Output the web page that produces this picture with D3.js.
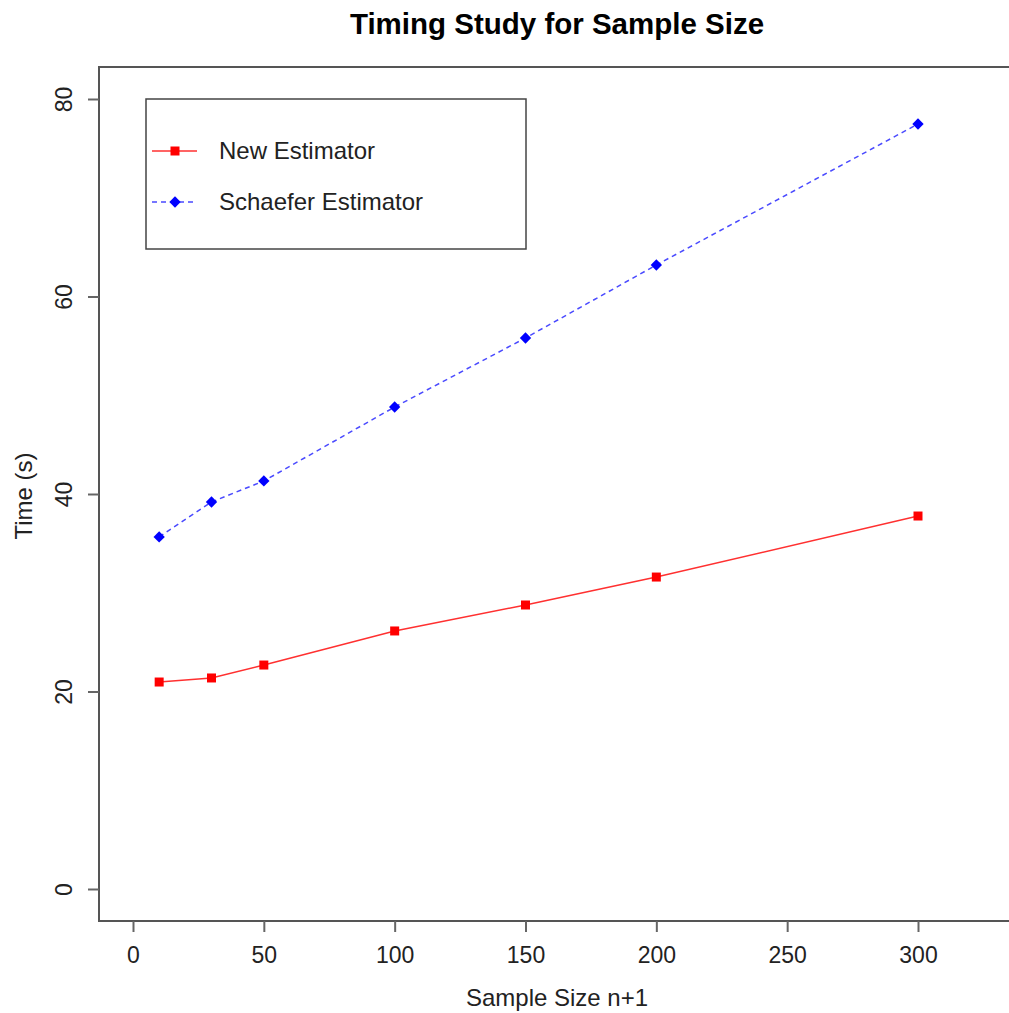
<!DOCTYPE html>
<html>
<head>
<meta charset="utf-8">
<script src="https://cdn.jsdelivr.net/npm/d3@7"></script>
<style>
  body { margin: 0; background: #fff; }
  svg { display: block; font-family: "Liberation Sans", Arial, sans-serif; }
</style>
</head>
<body>
<div id="chart"></div>
<script>
// ========== DATA ==========
const sampleSizes = [10, 30, 50, 100, 150, 200, 300];
const newEstimator = [20.96, 21.37, 22.68, 26.13, 28.76, 31.59, 37.77];
const schaeferEstimator = [35.65, 39.19, 41.32, 48.81, 55.80, 63.19, 77.47];
const xTicks = [0, 50, 100, 150, 200, 250, 300];
const yTicks = [0, 20, 40, 60, 80];
const seriesNames = ['New Estimator', 'Schaefer Estimator'];

const width = 1009, height = 1013;
const box = { left: 99, top: 67, bottom: 921, right: 1012 };

const svg = d3.select('#chart').append('svg')
    .attr('width', width)
    .attr('height', height);

const x = d3.scaleLinear().domain([0, 300]).range([133, 918]);
const y = d3.scaleLinear().domain([0, 80]).range([889, 99]);

// plot box
svg.append('rect')
    .attr('x', box.left).attr('y', box.top)
    .attr('width', box.right - box.left).attr('height', box.bottom - box.top)
    .attr('fill', 'none').attr('stroke', '#555').attr('stroke-width', 2);

// axes
const xAxis = svg.append('g')
    .attr('transform', `translate(0,${box.bottom})`)
    .call(d3.axisBottom(x).tickValues(xTicks).tickSize(11).tickPadding(12));
const yAxis = svg.append('g')
    .attr('transform', `translate(${box.left},0)`)
    .call(d3.axisLeft(y).tickValues(yTicks).tickSize(11).tickPadding(12));

[xAxis, yAxis].forEach(a => {
    a.select('.domain').remove();
    a.selectAll('line').attr('stroke', '#666').attr('stroke-width', 2);
    a.selectAll('text').attr('fill', '#222').attr('font-size', '23px');
});
xAxis.selectAll('text').attr('y', 42).attr('dy', null);
// y tick labels are rotated, like R's default las=0
yAxis.selectAll('.tick').each(function() {
    d3.select(this).select('text')
        .attr('text-anchor', 'middle')
        .attr('dy', null)
        .attr('x', 0).attr('y', 0)
        .attr('transform', 'translate(-27,0) rotate(-90)');
});

// titles
svg.append('text')
    .attr('x', 557).attr('y', 34)
    .attr('text-anchor', 'middle')
    .attr('font-size', '29.5px').attr('font-weight', 'bold')
    .attr('fill', '#000')
    .text('Timing Study for Sample Size');

svg.append('text')
    .attr('x', 557).attr('y', 1006)
    .attr('text-anchor', 'middle')
    .attr('font-size', '24px').attr('fill', '#222')
    .text('Sample Size n+1');

svg.append('text')
    .attr('transform', 'translate(32,496) rotate(-90)')
    .attr('text-anchor', 'middle')
    .attr('font-size', '24px').attr('fill', '#222')
    .text('Time (s)');

// series
const line = d3.line().x(d => x(d[0])).y(d => y(d[1]));
const redPts = sampleSizes.map((s, i) => [s, newEstimator[i]]);
const bluePts = sampleSizes.map((s, i) => [s, schaeferEstimator[i]]);

svg.append('path').datum(redPts)
    .attr('d', line).attr('fill', 'none')
    .attr('stroke', '#ff3030').attr('stroke-width', 1.5);
svg.append('path').datum(bluePts)
    .attr('d', line).attr('fill', 'none')
    .attr('stroke', '#4a4aff').attr('stroke-width', 1.5)
    .attr('stroke-dasharray', '5,4');

const square = d3.symbol().type(d3.symbolSquare).size(81);
const diamond = d3.symbol().type(d3.symbolSquare).size(64);

svg.append('g').selectAll('path')
    .data(redPts).enter().append('path')
    .attr('d', square)
    .attr('transform', d => `translate(${x(d[0])},${y(d[1])})`)
    .attr('fill', '#ff0000');
svg.append('g').selectAll('path')
    .data(bluePts).enter().append('path')
    .attr('d', diamond)
    .attr('transform', d => `translate(${x(d[0])},${y(d[1])}) rotate(45)`)
    .attr('fill', '#0000ff');

// legend
const legend = svg.append('g');
legend.append('rect')
    .attr('x', 146).attr('y', 99).attr('width', 380).attr('height', 150)
    .attr('fill', '#fff').attr('stroke', '#444').attr('stroke-width', 1.5);
const legendItems = [
    { name: seriesNames[0], color: '#ff3030', fill: '#ff0000', dash: null, sym: square, rot: 0, y: 151 },
    { name: seriesNames[1], color: '#4a4aff', fill: '#0000ff', dash: '5,4', sym: diamond, rot: 45, y: 202 }
];
legendItems.forEach(it => {
    legend.append('line')
        .attr('x1', 152).attr('x2', 197).attr('y1', it.y).attr('y2', it.y)
        .attr('stroke', it.color).attr('stroke-width', 1.5)
        .attr('stroke-dasharray', it.dash);
    legend.append('path')
        .attr('d', it.sym)
        .attr('transform', `translate(175,${it.y}) rotate(${it.rot})`)
        .attr('fill', it.fill);
    legend.append('text')
        .attr('x', 219).attr('y', it.y + 8)
        .attr('font-size', '24px').attr('fill', '#222')
        .text(it.name);
});
</script>
</body>
</html>
